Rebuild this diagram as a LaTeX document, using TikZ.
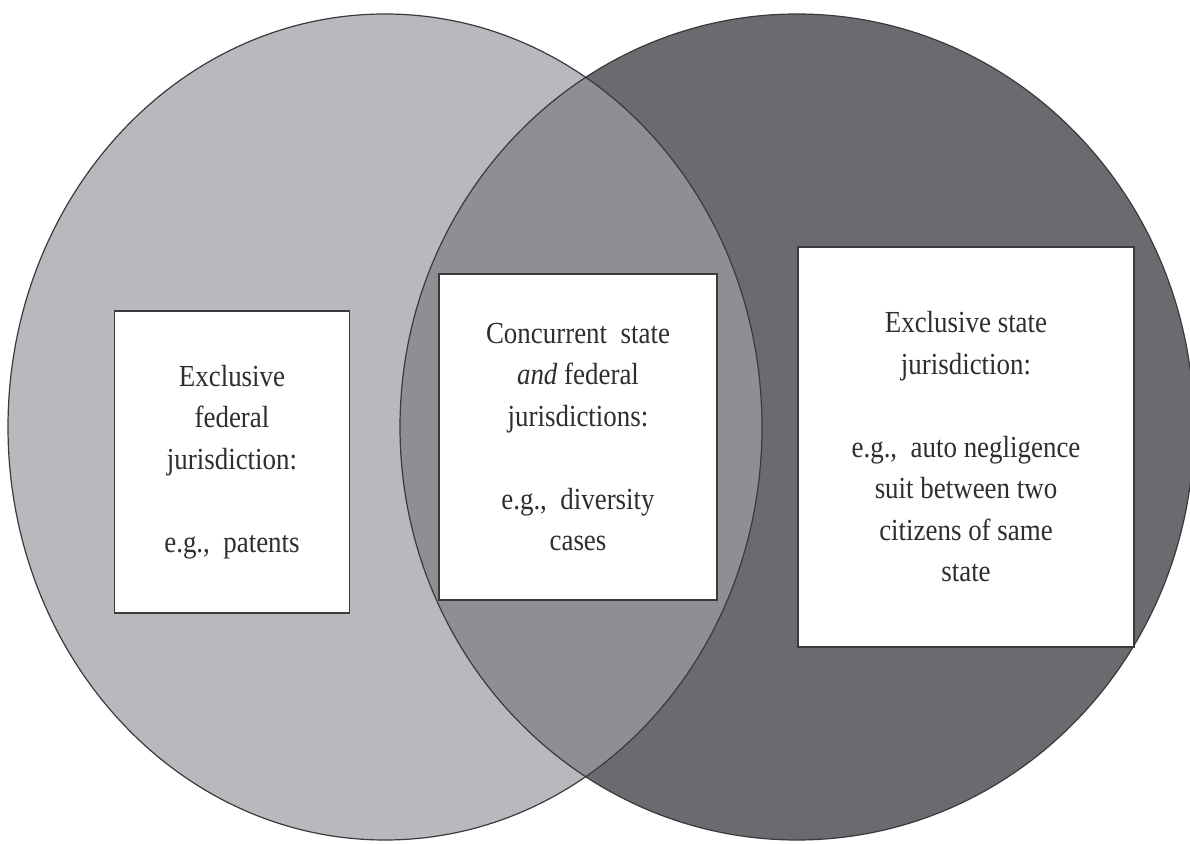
\documentclass[tikz,border=0pt]{standalone}
\usepackage{fontspec}
\setmainfont[FakeStretch=0.88]{Liberation Serif}
\definecolor{lightg}{HTML}{B9B8BD}
\definecolor{midg}{HTML}{8F8E93}
\definecolor{darkg}{HTML}{6B6A6F}
\definecolor{edgeg}{HTML}{3A3A3E}
\tikzset{
  region/.style={draw=edgeg, line width=0.6pt},
  infobox/.style={draw=edgeg, fill=white, line width=0.8pt, inner sep=0pt, align=center,
    font=\fontsize{15.3pt}{20.75pt}\selectfont, text=black!82},
}
\begin{document}
\begin{tikzpicture}[x=0.5pt,y=-0.5pt]
\useasboundingbox (0,0) rectangle (1190,844);
% regions
\fill[lightg] (385,427) ellipse [x radius=188.5pt, y radius=206.5pt];
\fill[darkg] (797,427) ellipse [x radius=198.5pt, y radius=206.5pt];
\begin{scope}
  \clip (385,427) ellipse [x radius=188.5pt, y radius=206.5pt];
  \fill[midg] (797,427) ellipse [x radius=198.5pt, y radius=206.5pt];
\end{scope}
\draw[region] (385,427) ellipse [x radius=188.5pt, y radius=206.5pt];
\draw[region] (797,427) ellipse [x radius=198.5pt, y radius=206.5pt];
% boxes
\node[infobox, minimum width=117.5pt, minimum height=151pt] (fed) at (232,462)
  {Exclusive\\ federal\\ jurisdiction:\\[20.75pt] e.g.,~ patents};
\node[infobox, minimum width=139pt, minimum height=163pt] (conc) at (578,437)
  {Concurrent~ state\\ \textit{and} federal\\ jurisdictions:\\[20.75pt] e.g.,~ diversity\\ cases};
\node[infobox, minimum width=168pt, minimum height=200pt] (state) at (966,447)
  {Exclusive state\\ jurisdiction:\\[20.75pt] e.g.,~ auto negligence\\ suit between two\\ citizens of same\\ state};
\end{tikzpicture}
\end{document}
